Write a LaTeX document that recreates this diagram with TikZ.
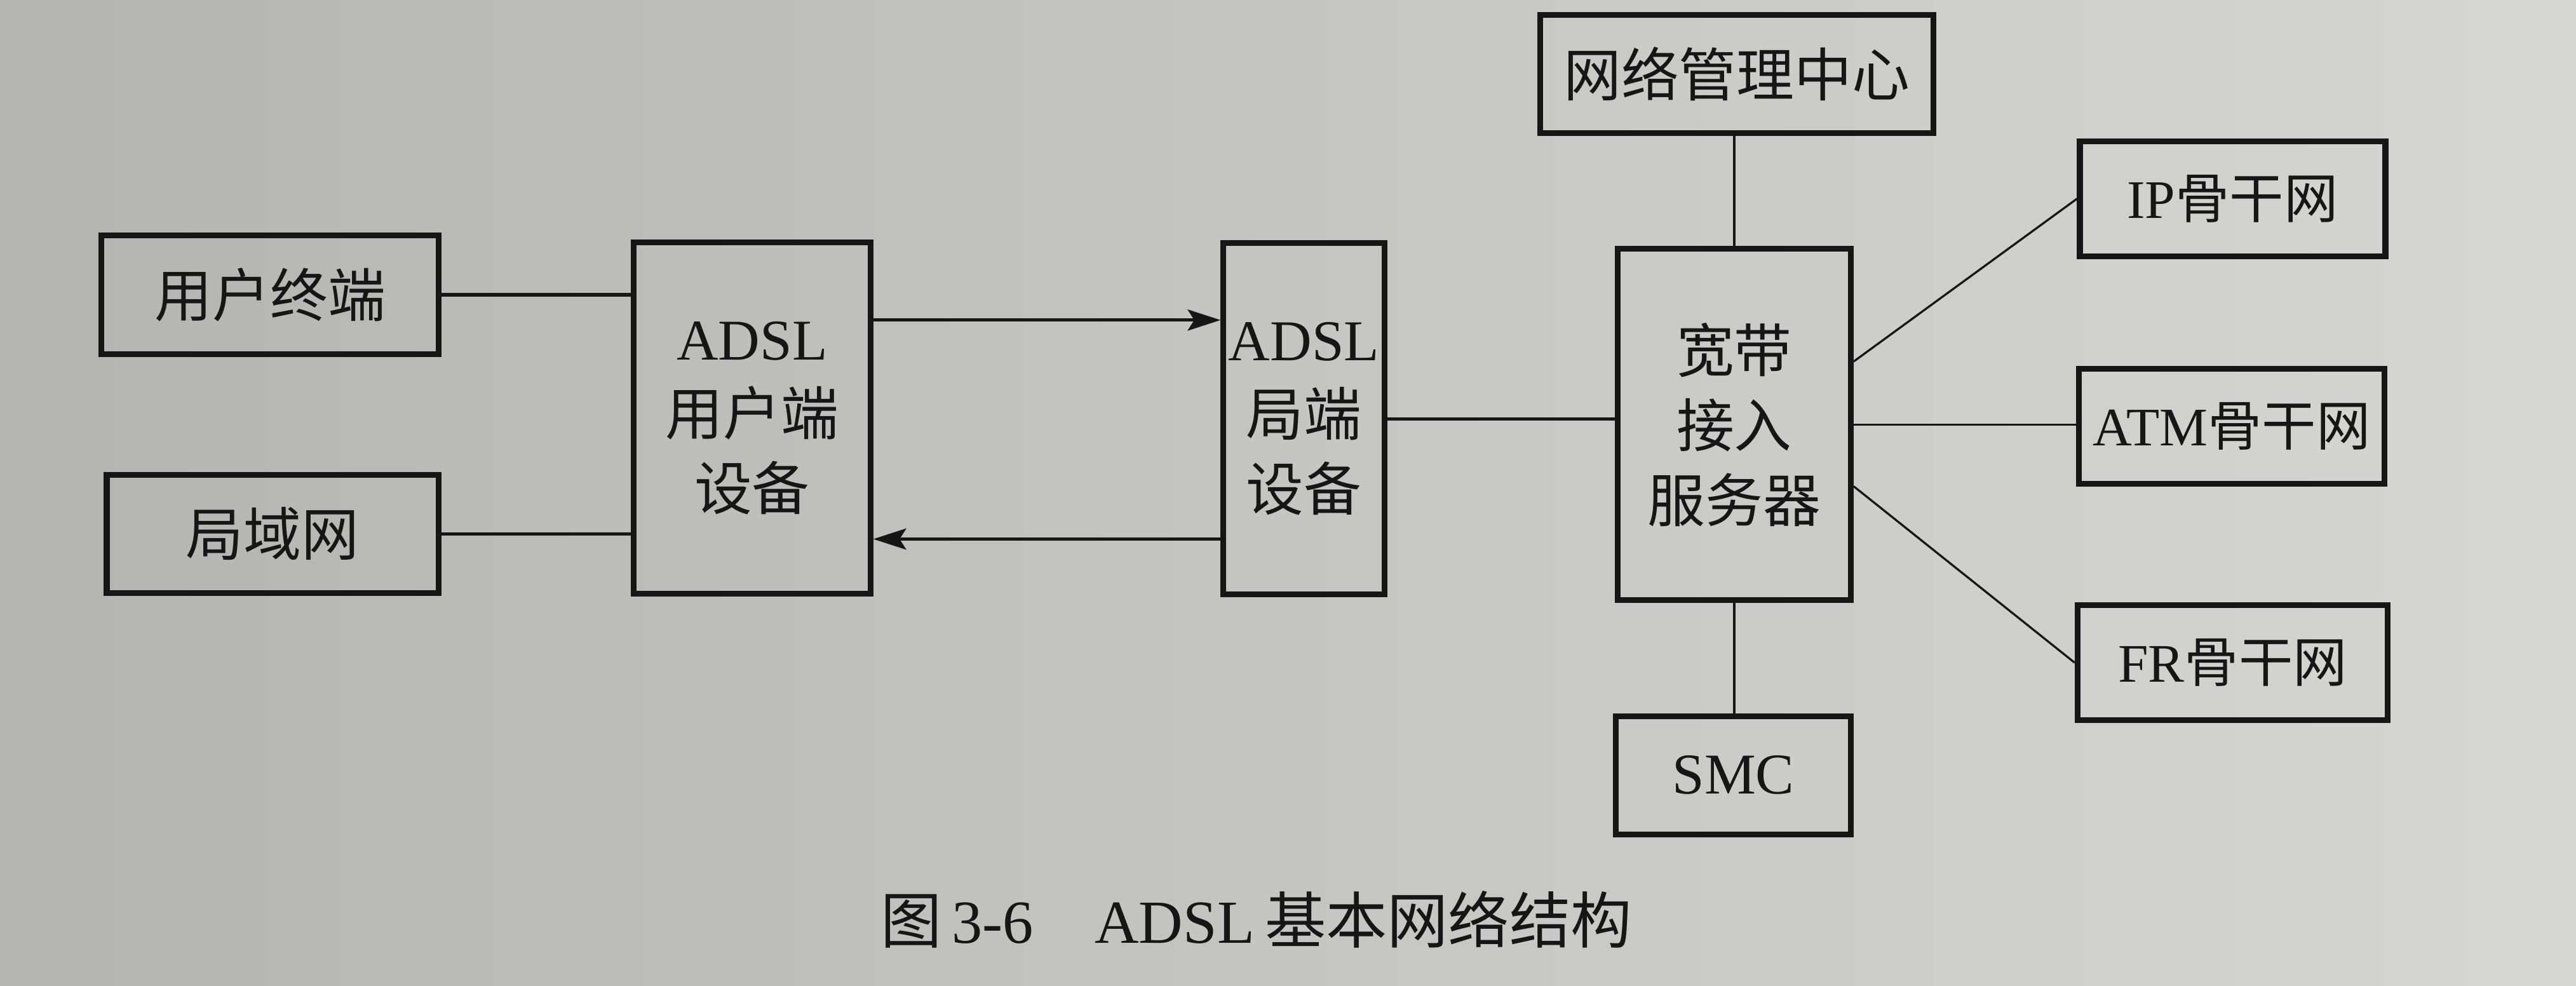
\documentclass[tikz,border=0pt]{standalone}
\usepackage{fontspec}
\setmainfont{Liberation Serif}
\newfontfamily\cjk{Noto Sans CJK SC}
\usetikzlibrary{arrows.meta}
\definecolor{paperleft}{RGB}{180,180,178}
\definecolor{paperright}{RGB}{214,214,212}
\definecolor{ink}{RGB}{22,22,22}

\begin{document}
\begin{tikzpicture}[x=0.025cm, y=-0.025cm,
        box/.style={draw=ink, line width=2.5pt, inner sep=0pt, align=center, text=ink,
                    font=\fontsize{25}{32.5}\selectfont},
        flatbox/.style={box, minimum height=1.8cm},
        tallbox/.style={box, minimum height=5.35cm},
        netbox/.style={flatbox, minimum height=1.75cm, font=\fontsize{23.5}{28}\selectfont},
        link/.style={draw=ink, line width=1.4pt},
        thinlink/.style={draw=ink, line width=0.9pt},
        feed/.style={link, -{Stealth[length=0.5cm, width=0.32cm, inset=0.1cm]}}
    ]
        % paper
        \shade[left color=paperleft, right color=paperright] (0,0) rectangle (1568.6,600);
        \useasboundingbox (0,0) rectangle (1568.6,600);

        % user side
        \node[flatbox, minimum width=5.13cm] (term) at (164.5,179.5) {{\cjk 用户终端}};
        \node[flatbox, minimum width=5.05cm] (lan) at (166,325) {{\cjk 局域网}};
        \node[tallbox, minimum width=3.6cm] (atur) at (458,254.5) {ADSL\\{\cjk 用户端}\\{\cjk 设备}};

        % office side
        \node[tallbox, minimum width=2.45cm] (atuc) at (794,255) {ADSL\\{\cjk 局端}\\{\cjk 设备}};
        \node[tallbox, minimum width=3.55cm] (bras) at (1056,258.5) {{\cjk 宽带}\\{\cjk 接入}\\{\cjk 服务器}};
        \node[flatbox, minimum width=5.98cm] (nmc) at (1057.5,45) {{\cjk 网络管理中心}};
        \node[flatbox, minimum width=3.58cm] (smc) at (1055.5,472) {SMC};

        % backbones
        \node[netbox, minimum width=4.65cm] (ip) at (1359.5,121) {IP{\cjk 骨干网}};
        \node[netbox, minimum width=4.65cm] (atm) at (1359,259.5) {ATM{\cjk 骨干网}};
        \node[netbox, minimum width=4.72cm] (fr) at (1359.5,403.5) {FR{\cjk 骨干网}};

        % caption
        \node[text=ink, font=\fontsize{26.5}{30}\selectfont] (caption) at (765,560)
            {{\cjk 图}\,3-6\quad ADSL\,{\cjk 基本网络结构}};

        % links
        \draw[link] (term.east) -- (term.east -| atur.west);
        \draw[link] (lan.east) -- (lan.east -| atur.west);
        \draw[feed] ([yshift=1.49cm]atur.east) -- ([yshift=1.49cm]atur.east -| atuc.west);
        \draw[feed] ([yshift=-1.83cm]atuc.west) -- ([yshift=-1.83cm]atuc.west -| atur.east);
        \draw[link] (atuc.east) -- (atuc.east -| bras.west);
        \draw[thinlink] (bras.north) -- (bras.north |- nmc.south);
        \draw[thinlink] (bras.south) -- (bras.south |- smc.north);
        \draw[thinlink] ([yshift=0.96cm]bras.east) -- (ip.west);
        \draw[thinlink] (bras.east) -- (bras.east -| atm.west);
        \draw[thinlink] ([yshift=-0.94cm]bras.east) -- (fr.west);
    \end{tikzpicture}
\end{document}
